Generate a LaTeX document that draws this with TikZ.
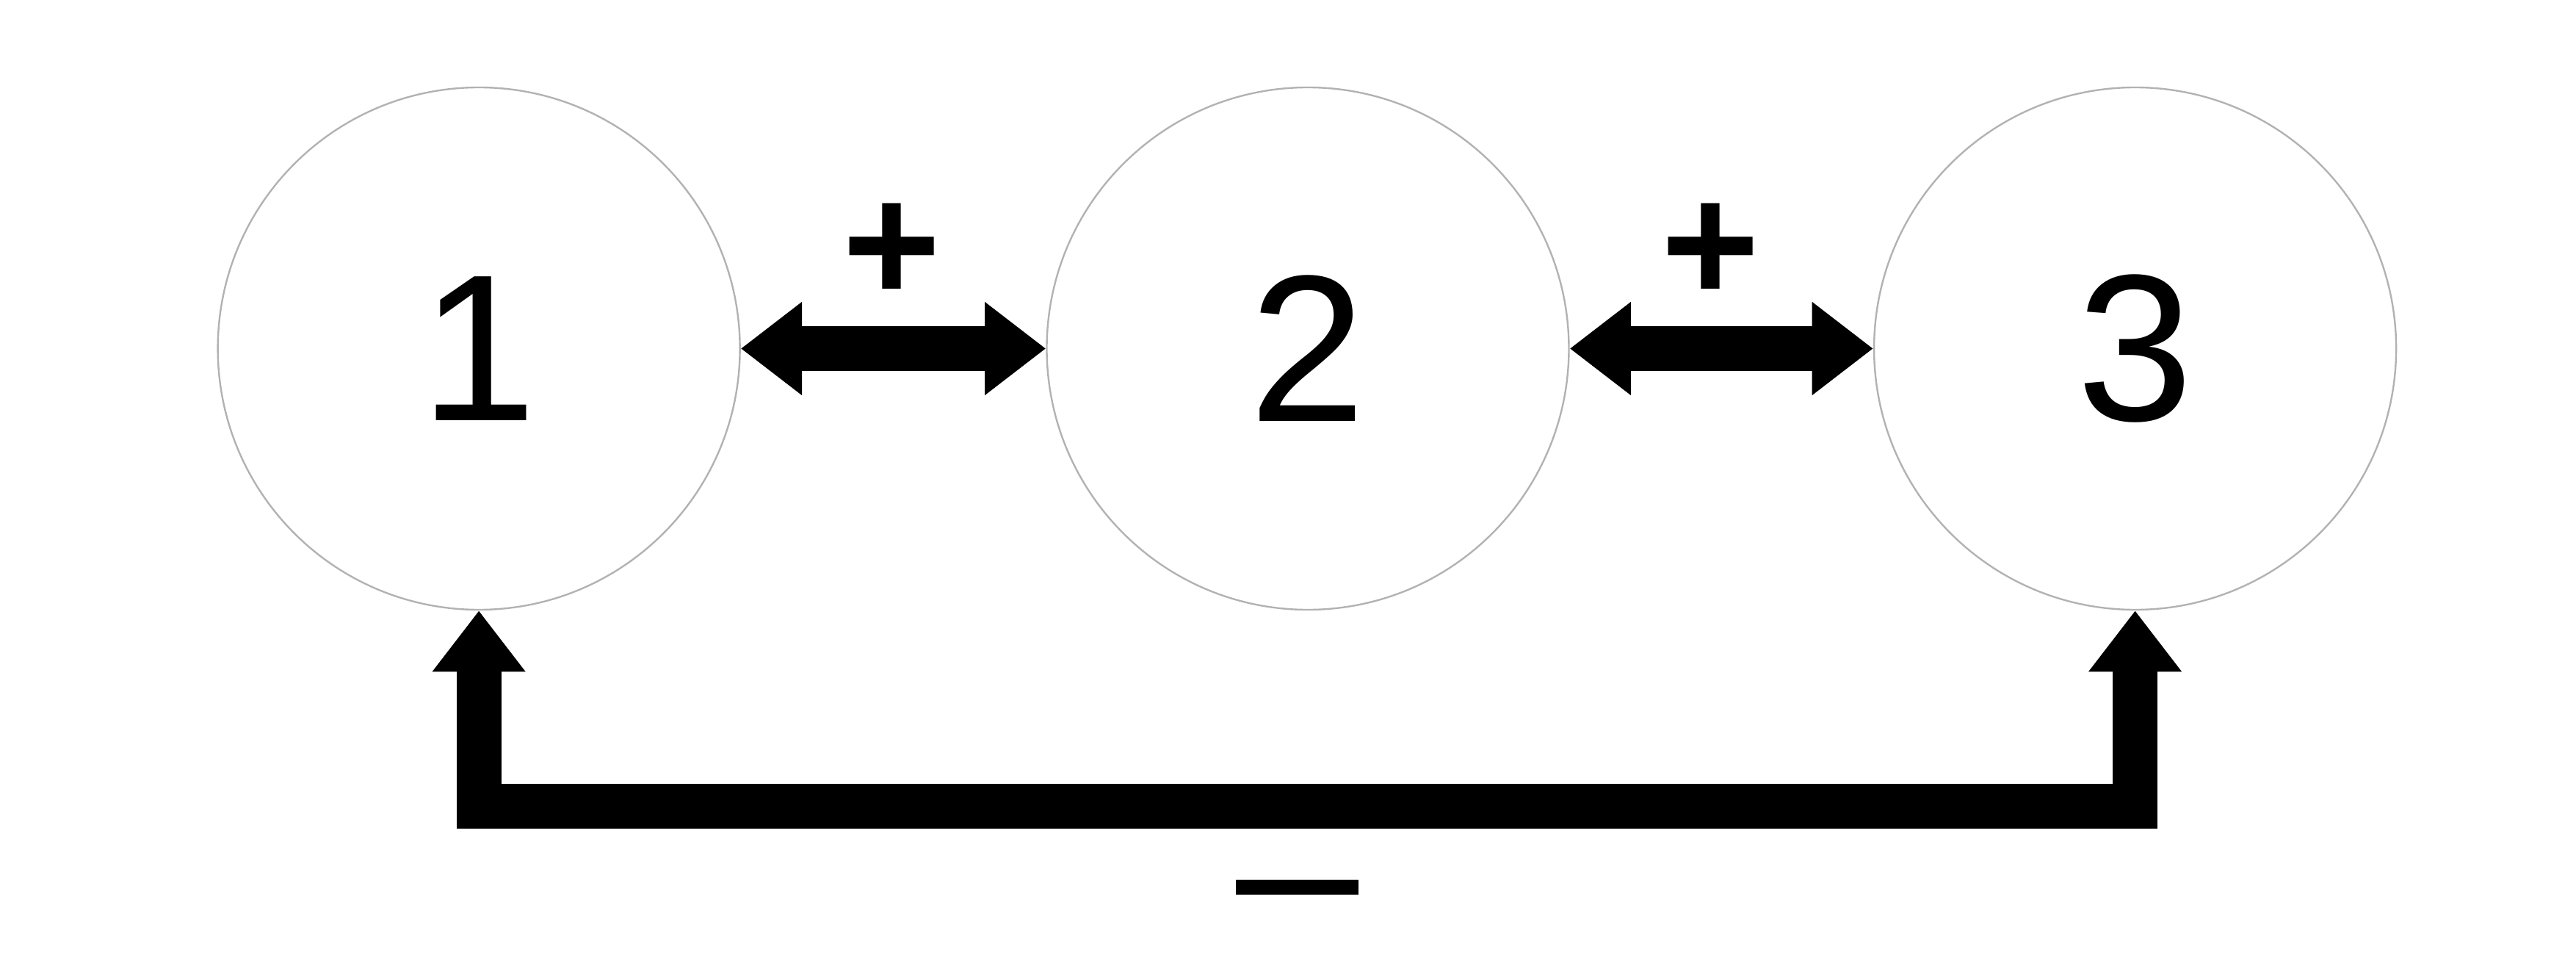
\documentclass[tikz,border=0pt]{standalone}
\usepackage{fontspec}
\setmainfont{Liberation Sans}
\usetikzlibrary{arrows.meta}
\begin{document}
\begin{tikzpicture}[x=0.01cm,y=-0.01cm,
  circ/.style={circle,draw=gray!60,line width=0.3pt,minimum size=3.16cm,inner sep=0pt,font=\fontsize{36}{40}\selectfont},
  conn/.style={line width=0.27cm,{Triangle[length=3.7mm,width=5.4mm]}-{Triangle[length=3.7mm,width=5.4mm]}},
  sign/.style={font=\fontsize{29}{32}\selectfont\bfseries,inner sep=0pt}]
\useasboundingbox (0,0) rectangle (1560,578);
\node[circ] (c1) at (290,211) {1};
\node[circ] (c2) at (792,211) {2};
\node[circ] (c3) at (1293,211) {3};
\draw[conn] (c1.east) -- (c2.west);
\draw[conn] (c2.east) -- (c3.west);
\draw[conn,line join=miter] (c1.south) -- ++(0,118.5) -| (c3.south);
\node[sign] (p1) at (540,153) {+};
\node[sign] (p2) at (1036,153) {+};
\node[inner sep=2pt] (m) at (786,552) {\fontsize{38}{40}\selectfont –};
\end{tikzpicture}
\end{document}
